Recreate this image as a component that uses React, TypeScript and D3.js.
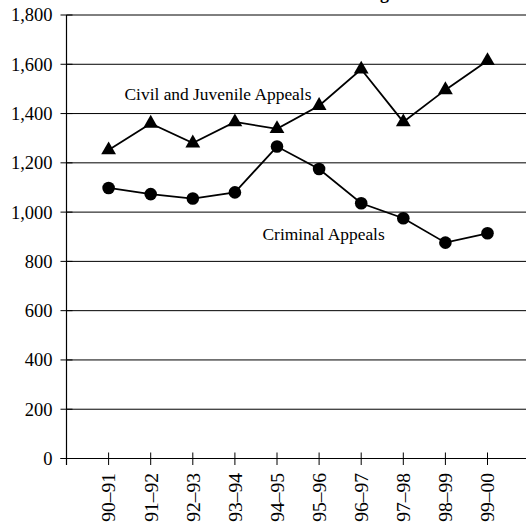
import React from "react";
import * as d3 from "d3";

const periods = ["90–91", "91–92", "92–93", "93–94", "94–95", "95–96", "96–97", "97–98", "98–99", "99–00"];
const civilJuvenile = [1252, 1360, 1280, 1366, 1338, 1432, 1580, 1366, 1496, 1614];
const criminal = [1098, 1073, 1055, 1080, 1266, 1175, 1036, 975, 876, 914];
const yTicks = [0, 200, 400, 600, 800, 1000, 1200, 1400, 1600, 1800];

const W = 526;
const H = 525;
const FONT = "'Liberation Serif', 'Times New Roman', serif";

export default function App() {
  const x = d3.scaleLinear().domain([-1, periods.length]).range([66.5, 529.6]);
  const y = d3.scaleLinear().domain([0, 1800]).range([458.5, 15]);
  const line = d3
    .line<number>()
    .x((_, i) => x(i))
    .y((d) => y(d));
  const tri = d3.symbol().type(d3.symbolTriangle).size(95)();
  const axisX = x(-1);

  return (
    <svg
      width={W}
      height={H}
      style={{ position: "absolute", left: 0, top: 0, background: "#fff" }}
      fontFamily={FONT}
    >
      <text x={344} y={-1} fontSize={18} fontWeight="bold" fill="#000">
        Filings
      </text>
      {/* gridlines */}
      {yTicks.filter((t) => t > 0).map((t) => (
        <line key={t} x1={axisX} x2={W} y1={y(t)} y2={y(t)} stroke="#000" strokeWidth={1} />
      ))}
      {/* y axis */}
      <line x1={axisX} x2={axisX} y1={y(1800)} y2={y(0) + 6.5} stroke="#000" strokeWidth={1.2} />
      {yTicks.map((t) => (
        <g key={t}>
          <line x1={axisX - 6} x2={axisX + 6} y1={y(t)} y2={y(t)} stroke="#000" strokeWidth={1} />
          <text x={axisX - 14} y={y(t)} dy="0.35em" textAnchor="end" fontSize={18.5} fill="#000">
            {d3.format(",")(t)}
          </text>
        </g>
      ))}
      {/* x axis */}
      <line x1={axisX - 6} x2={W} y1={y(0)} y2={y(0)} stroke="#000" strokeWidth={1.2} />
      {periods.map((p, i) => (
        <g key={p}>
          <line x1={x(i)} x2={x(i)} y1={y(0) - 6} y2={y(0) + 6.5} stroke="#000" strokeWidth={1} />
          <text
            transform={`translate(${x(i)},${y(0) + 14.5}) rotate(-90)`}
            textAnchor="end"
            dy="0.35em"
            fontSize={19.5}
            fill="#000"
          >
            {p}
          </text>
        </g>
      ))}
      {/* series */}
      <path d={line(civilJuvenile) || ""} fill="none" stroke="#000" strokeWidth={1.8} />
      <path d={line(criminal) || ""} fill="none" stroke="#000" strokeWidth={1.8} />
      {civilJuvenile.map((v, i) => (
        <path key={"t" + i} d={tri || ""} transform={`translate(${x(i)},${y(v)})`} fill="#000" />
      ))}
      {criminal.map((v, i) => (
        <circle key={"c" + i} cx={x(i)} cy={y(v)} r={6.3} fill="#000" />
      ))}
      <text x={124.5} y={99.5} fontSize={17.4} fill="#000">
        Civil and Juvenile Appeals
      </text>
      <text x={262.5} y={240} fontSize={17.4} fill="#000">
        Criminal Appeals
      </text>
    </svg>
  );
}
